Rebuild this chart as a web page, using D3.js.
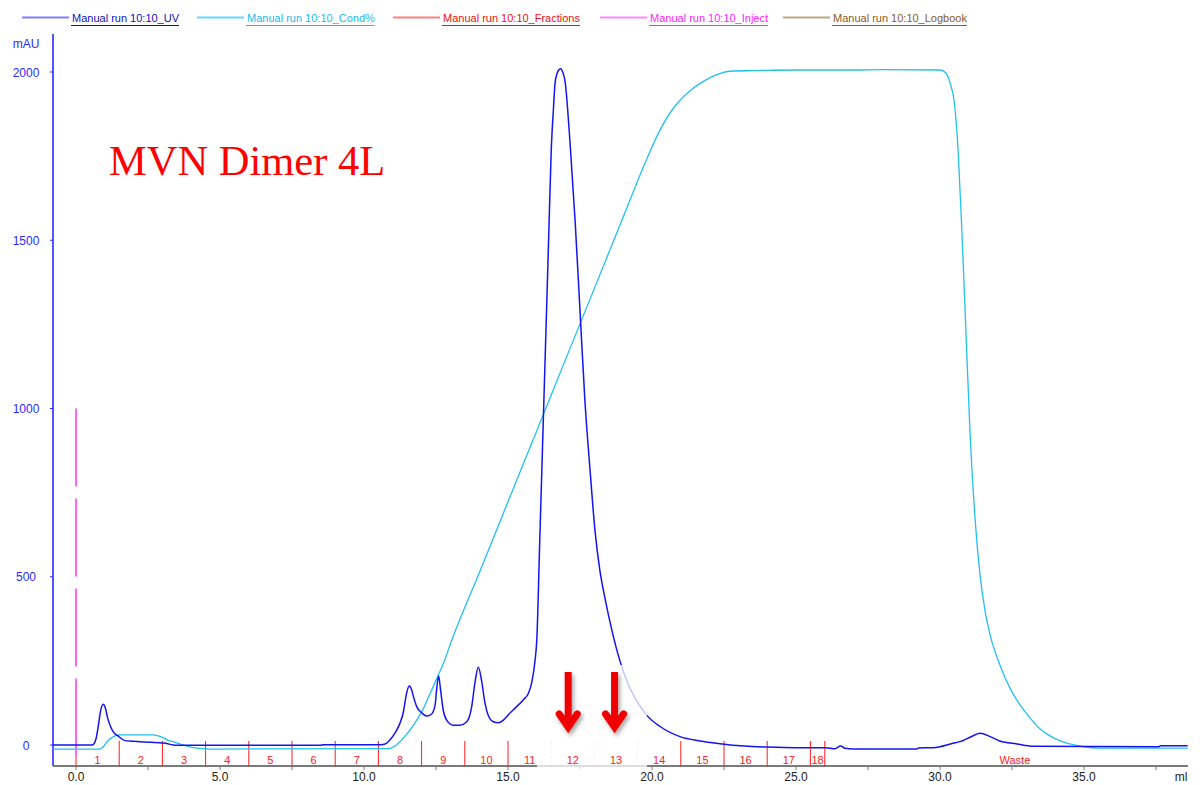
<!DOCTYPE html>
<html>
<head>
<meta charset="utf-8">
<script src="https://cdn.jsdelivr.net/npm/d3@7"></script>
<style>
  html, body { margin: 0; padding: 0; background: #fff; }
  svg { display: block; font-family: "Liberation Sans", Arial, sans-serif; }
</style>
</head>
<body>
<svg id="chart" width="1200" height="785"></svg>
<script>
// ---- Chromatogram data (volume in ml, signal in mAU) ----
const uvVolume = [-0.8, 0.55, 0.62, 0.7, 0.78, 0.85, 0.95, 1.02, 1.1, 1.2, 1.3, 1.46, 1.7, 2.0, 2.22, 2.6, 2.9, 3.1, 3.37, 3.5,
  8.5, 8.57, 10.6, 10.7, 10.9, 11.08, 11.25, 11.36, 11.48, 11.57, 11.65, 11.72, 11.83, 12.0, 12.18, 12.35, 12.47, 12.52, 12.59,
  12.66, 12.75, 12.87, 13.1, 13.33, 13.57, 13.74, 13.85, 13.97, 14.08, 14.2, 14.31, 14.49, 14.66, 14.84, 15.07, 15.3, 15.53,
  15.71, 15.82, 15.94, 16.0, 16.1, 16.2, 16.3, 16.4, 16.5, 16.58, 16.63, 16.7, 16.78, 16.84, 16.9, 16.98, 17.15, 17.33,
  17.5, 17.67, 17.85, 18.02, 18.19, 18.37, 18.61, 18.77, 19.0, 19.24, 19.58, 19.82, 20.28, 20.97, 21.67, 22.36, 23.2, 24.0,
  25.0, 26.0, 26.2, 26.35, 26.55, 26.7, 27.0, 29.2, 29.25, 29.76, 30.45, 30.7, 31.04, 31.4, 31.74, 32.08, 32.67, 33.23,
  37.6, 37.65, 38.6];
const uvSignal = [0, 0, 3, 20, 60, 100, 121, 110, 80, 55, 38, 27, 13, 11, 10, 8, 7, 5, 0, -1,
  -1, 1, 1, 2, 15, 36, 65, 95, 154, 175, 165, 143, 114, 96, 86, 92, 119, 163, 205,
  163, 104, 74, 59, 59, 69, 114, 184, 231, 193, 125, 89, 69, 66, 74, 95, 114, 134,
  154, 184, 252, 312, 600, 890, 1180, 1470, 1765, 1894, 1964, 1995, 2008, 2010, 2000, 1973, 1795, 1558,
  1291, 1024, 816, 638, 519, 435, 340, 285, 220, 168, 116, 88, 55, 25, 12, 4, -3, -6,
  -8, -8, -10, -11, -3, -10, -12, -12, -9, -8, 5, 10, 23, 35, 25, 12, 3, -4,
  -5, -2, -2];

const condVolume = [-0.8, 0.8, 0.95, 1.1, 1.24, 1.5, 2.67, 2.85, 3.02, 3.2, 3.38, 3.55, 3.73, 4.07, 4.4, 4.65,
  10.8, 10.9, 11.13, 11.36, 11.6, 11.83, 12.06, 12.3, 12.53, 12.76, 13.05, 14.0, 15.0, 16.0, 17.0, 18.0, 19.0, 19.8,
  20.3, 20.8, 21.3, 21.8, 22.3, 22.8, 23.5, 25.0, 27.0, 28.0, 30.0, 30.21, 30.35, 30.49, 30.63, 30.76, 30.9, 31.04,
  31.22, 31.39, 31.56, 31.74, 32.08, 32.43, 32.78, 33.13, 33.47, 33.82, 34.17, 34.51, 35.03, 35.56, 38.6];
const condSignal = [-12, -12, -5, 12, 22, 30, 30, 27, 22, 14, 10, 5, 0, -8, -11, -12,
  -11, -10, 0, 20, 45, 74, 108, 154, 198, 243, 312, 511, 723, 934, 1146, 1357, 1569, 1738,
  1831, 1899, 1943, 1973, 1994, 2003, 2004, 2006, 2006, 2007, 2006, 1997, 1967, 1914, 1765, 1527, 1230, 933,
  669, 505, 401, 327, 238, 169, 119, 80, 48, 27, 12, 3, -6, -9, -9];

// Fraction collection boundaries (ml) and their labels
const fractionBounds = [0, 1.5, 3, 4.5, 6, 7.5, 9, 10.5, 12, 13.5, 15, 16.5, 18, 19.5, 21, 22.5, 24, 25.5, 26];
const fractionLabels = ["1", "2", "3", "4", "5", "6", "7", "8", "9", "10", "11", "12", "13", "14", "15", "16", "17", "18"];
const wasteLabel = "Waste";
const wasteVolume = 32.6;
const pooledBounds = [16.5, 18, 19.5];

// Injection mark
const injectVolume = 0;
const injectHeight = 1000;

// Axis ticks
const xTickValues = [0, 5, 10, 15, 20, 25, 30, 35];
const xMinorTicks = [2.5, 7.5, 12.5, 17.5, 22.5, 27.5, 32.5, 37.5];
const yTickValues = [0, 500, 1000, 1500, 2000];

// Legend entries
const legendNames = ["Manual run 10:10_UV", "Manual run 10:10_Cond%", "Manual run 10:10_Fractions",
  "Manual run 10:10_Inject", "Manual run 10:10_Logbook"];

// Annotation
const titleText = "MVN Dimer 4L";
const arrowVolumes = [17.09, 18.7];

// ---- Drawing ----
const svg = d3.select("#chart");
const x = d3.scaleLinear().domain([0, 35]).range([76, 1084]);
const y = d3.scaleLinear().domain([0, 2000]).range([745, 72]);
const axisY = 766, axisLeft = 53, axisRight = 1188, axisTop = 34;

const defs = svg.append("defs");
const shadow = defs.append("filter").attr("id", "arrowShadow")
  .attr("x", "-50%").attr("y", "-50%").attr("width", "200%").attr("height", "200%");
shadow.append("feDropShadow").attr("dx", 2).attr("dy", 3).attr("stdDeviation", 2)
  .attr("flood-color", "#000").attr("flood-opacity", 0.35);

// Legend
const legendColors = [
  { line: "#7f7fff", text: "#1010c0" },
  { line: "#66d8ff", text: "#22bbee" },
  { line: "#ff8080", text: "#ee1111" },
  { line: "#ff88ff", text: "#ff22ff" },
  { line: "#c4a484", text: "#8b5a2b" }
];
const legendLineX = [22, 197, 393, 600, 783];
const legend = svg.append("g");
legendNames.forEach((name, i) => {
  const lx = legendLineX[i];
  legend.append("line").attr("x1", lx).attr("x2", lx + 47).attr("y1", 17.5).attr("y2", 17.5)
    .attr("stroke", legendColors[i].line).attr("stroke-width", 2);
  const t = legend.append("text").attr("x", lx + 50).attr("y", 22)
    .attr("font-size", 11).attr("fill", legendColors[i].text).text(name);
  const w = t.node().getComputedTextLength();
  legend.append("line").attr("x1", lx + 49).attr("x2", lx + 50 + w).attr("y1", 25.5).attr("y2", 25.5)
    .attr("stroke", legendColors[i].text).attr("stroke-width", 1);
});

// Y axis
svg.append("line").attr("x1", axisLeft).attr("x2", axisLeft).attr("y1", axisTop).attr("y2", axisY)
  .attr("stroke", "#2a2aff").attr("stroke-width", 1.6);
svg.append("text").attr("x", 26).attr("y", 48).attr("text-anchor", "middle")
  .attr("font-size", 12).attr("fill", "#2a2aff").text("mAU");
const yt = svg.append("g");
yTickValues.forEach(v => {
  yt.append("line").attr("x1", axisLeft - 3).attr("x2", axisLeft).attr("y1", y(v)).attr("y2", y(v))
    .attr("stroke", "#2a2aff").attr("stroke-width", 1);
  yt.append("text").attr("x", 26).attr("y", y(v) + 4.5).attr("text-anchor", "middle")
    .attr("font-size", 12).attr("fill", "#2a2aff").text(v);
});

// X axis
svg.append("line").attr("x1", axisLeft).attr("x2", axisRight).attr("y1", axisY).attr("y2", axisY)
  .attr("stroke", "#7a7a7a").attr("stroke-width", 2);
const xt = svg.append("g");
xTickValues.concat(xMinorTicks).forEach(v => {
  xt.append("line").attr("x1", x(v)).attr("x2", x(v)).attr("y1", axisY).attr("y2", axisY + 4)
    .attr("stroke", "#7a7a7a").attr("stroke-width", 1);
});
xTickValues.forEach(v => {
  xt.append("text").attr("x", x(v)).attr("y", 781).attr("text-anchor", "middle")
    .attr("font-size", 12).attr("fill", "#222").text(v.toFixed(1));
});
svg.append("text").attr("x", 1181).attr("y", 781).attr("text-anchor", "middle")
  .attr("font-size", 12).attr("fill", "#222").text("ml");

// Fraction boundaries
const fr = svg.append("g");
fractionBounds.forEach(v => {
  const pooled = pooledBounds.includes(v);
  fr.append("line").attr("x1", x(v)).attr("x2", x(v)).attr("y1", 741).attr("y2", axisY)
    .attr("stroke", pooled ? "#ffb4b4" : "#ff1a1a").attr("stroke-width", 1)
    .attr("stroke-dasharray", pooled ? "3,2" : null);
});

// Injection mark
svg.append("line").attr("x1", x(injectVolume)).attr("x2", x(injectVolume))
  .attr("y1", y(injectHeight)).attr("y2", axisY)
  .attr("stroke", "#ff66ff").attr("stroke-width", 2).attr("stroke-dasharray", "78,12");

// Curves
const line = d3.line().x(d => x(d[0])).y(d => y(d[1])).curve(d3.curveMonotoneX);
const condData = condVolume.map((v, i) => [v, condSignal[i]]);
const uvData = uvVolume.map((v, i) => [v, uvSignal[i]]);
svg.append("path").datum(condData).attr("d", line).attr("fill", "none")
  .attr("stroke", "#22c0f0").attr("stroke-width", 1.3);
svg.append("path").datum(uvData).attr("d", line).attr("fill", "none")
  .attr("stroke", "#1414f0").attr("stroke-width", 1.5);

// Highlight panel behind the arrows
svg.append("rect").attr("x", 537).attr("y", 665).attr("width", 110).attr("height", 106)
  .attr("fill", "#fff").attr("opacity", 0.75);

// Fraction labels
const fl = svg.append("g");
fractionLabels.forEach((lab, i) => {
  const c = (fractionBounds[i] + fractionBounds[i + 1]) / 2;
  fl.append("text").attr("x", x(c)).attr("y", 764).attr("text-anchor", "middle")
    .attr("font-size", 11).attr("fill", "#ff2020").text(lab);
});
fl.append("text").attr("x", x(wasteVolume)).attr("y", 764).attr("text-anchor", "middle")
  .attr("font-size", 11).attr("fill", "#ff2020").text(wasteLabel);

// Arrows marking pooled fractions
const arrows = svg.append("g").attr("filter", "url(#arrowShadow)");
arrowVolumes.forEach(v => {
  const cx = x(v);
  arrows.append("line").attr("x1", cx).attr("x2", cx).attr("y1", 672).attr("y2", 724)
    .attr("stroke", "#ee0000").attr("stroke-width", 7);
  arrows.append("polyline")
    .attr("points", `${cx - 9},${714} ${cx},${727} ${cx + 9},${714}`)
    .attr("fill", "none").attr("stroke", "#ee0000").attr("stroke-width", 7)
    .attr("stroke-linecap", "round").attr("stroke-linejoin", "miter");
});

// Title annotation
svg.append("text").attr("x", 109).attr("y", 175)
  .attr("font-family", "'Liberation Serif', 'Times New Roman', serif")
  .attr("font-size", 42.5).attr("fill", "#ff0000").text(titleText);
</script>
</body>
</html>
